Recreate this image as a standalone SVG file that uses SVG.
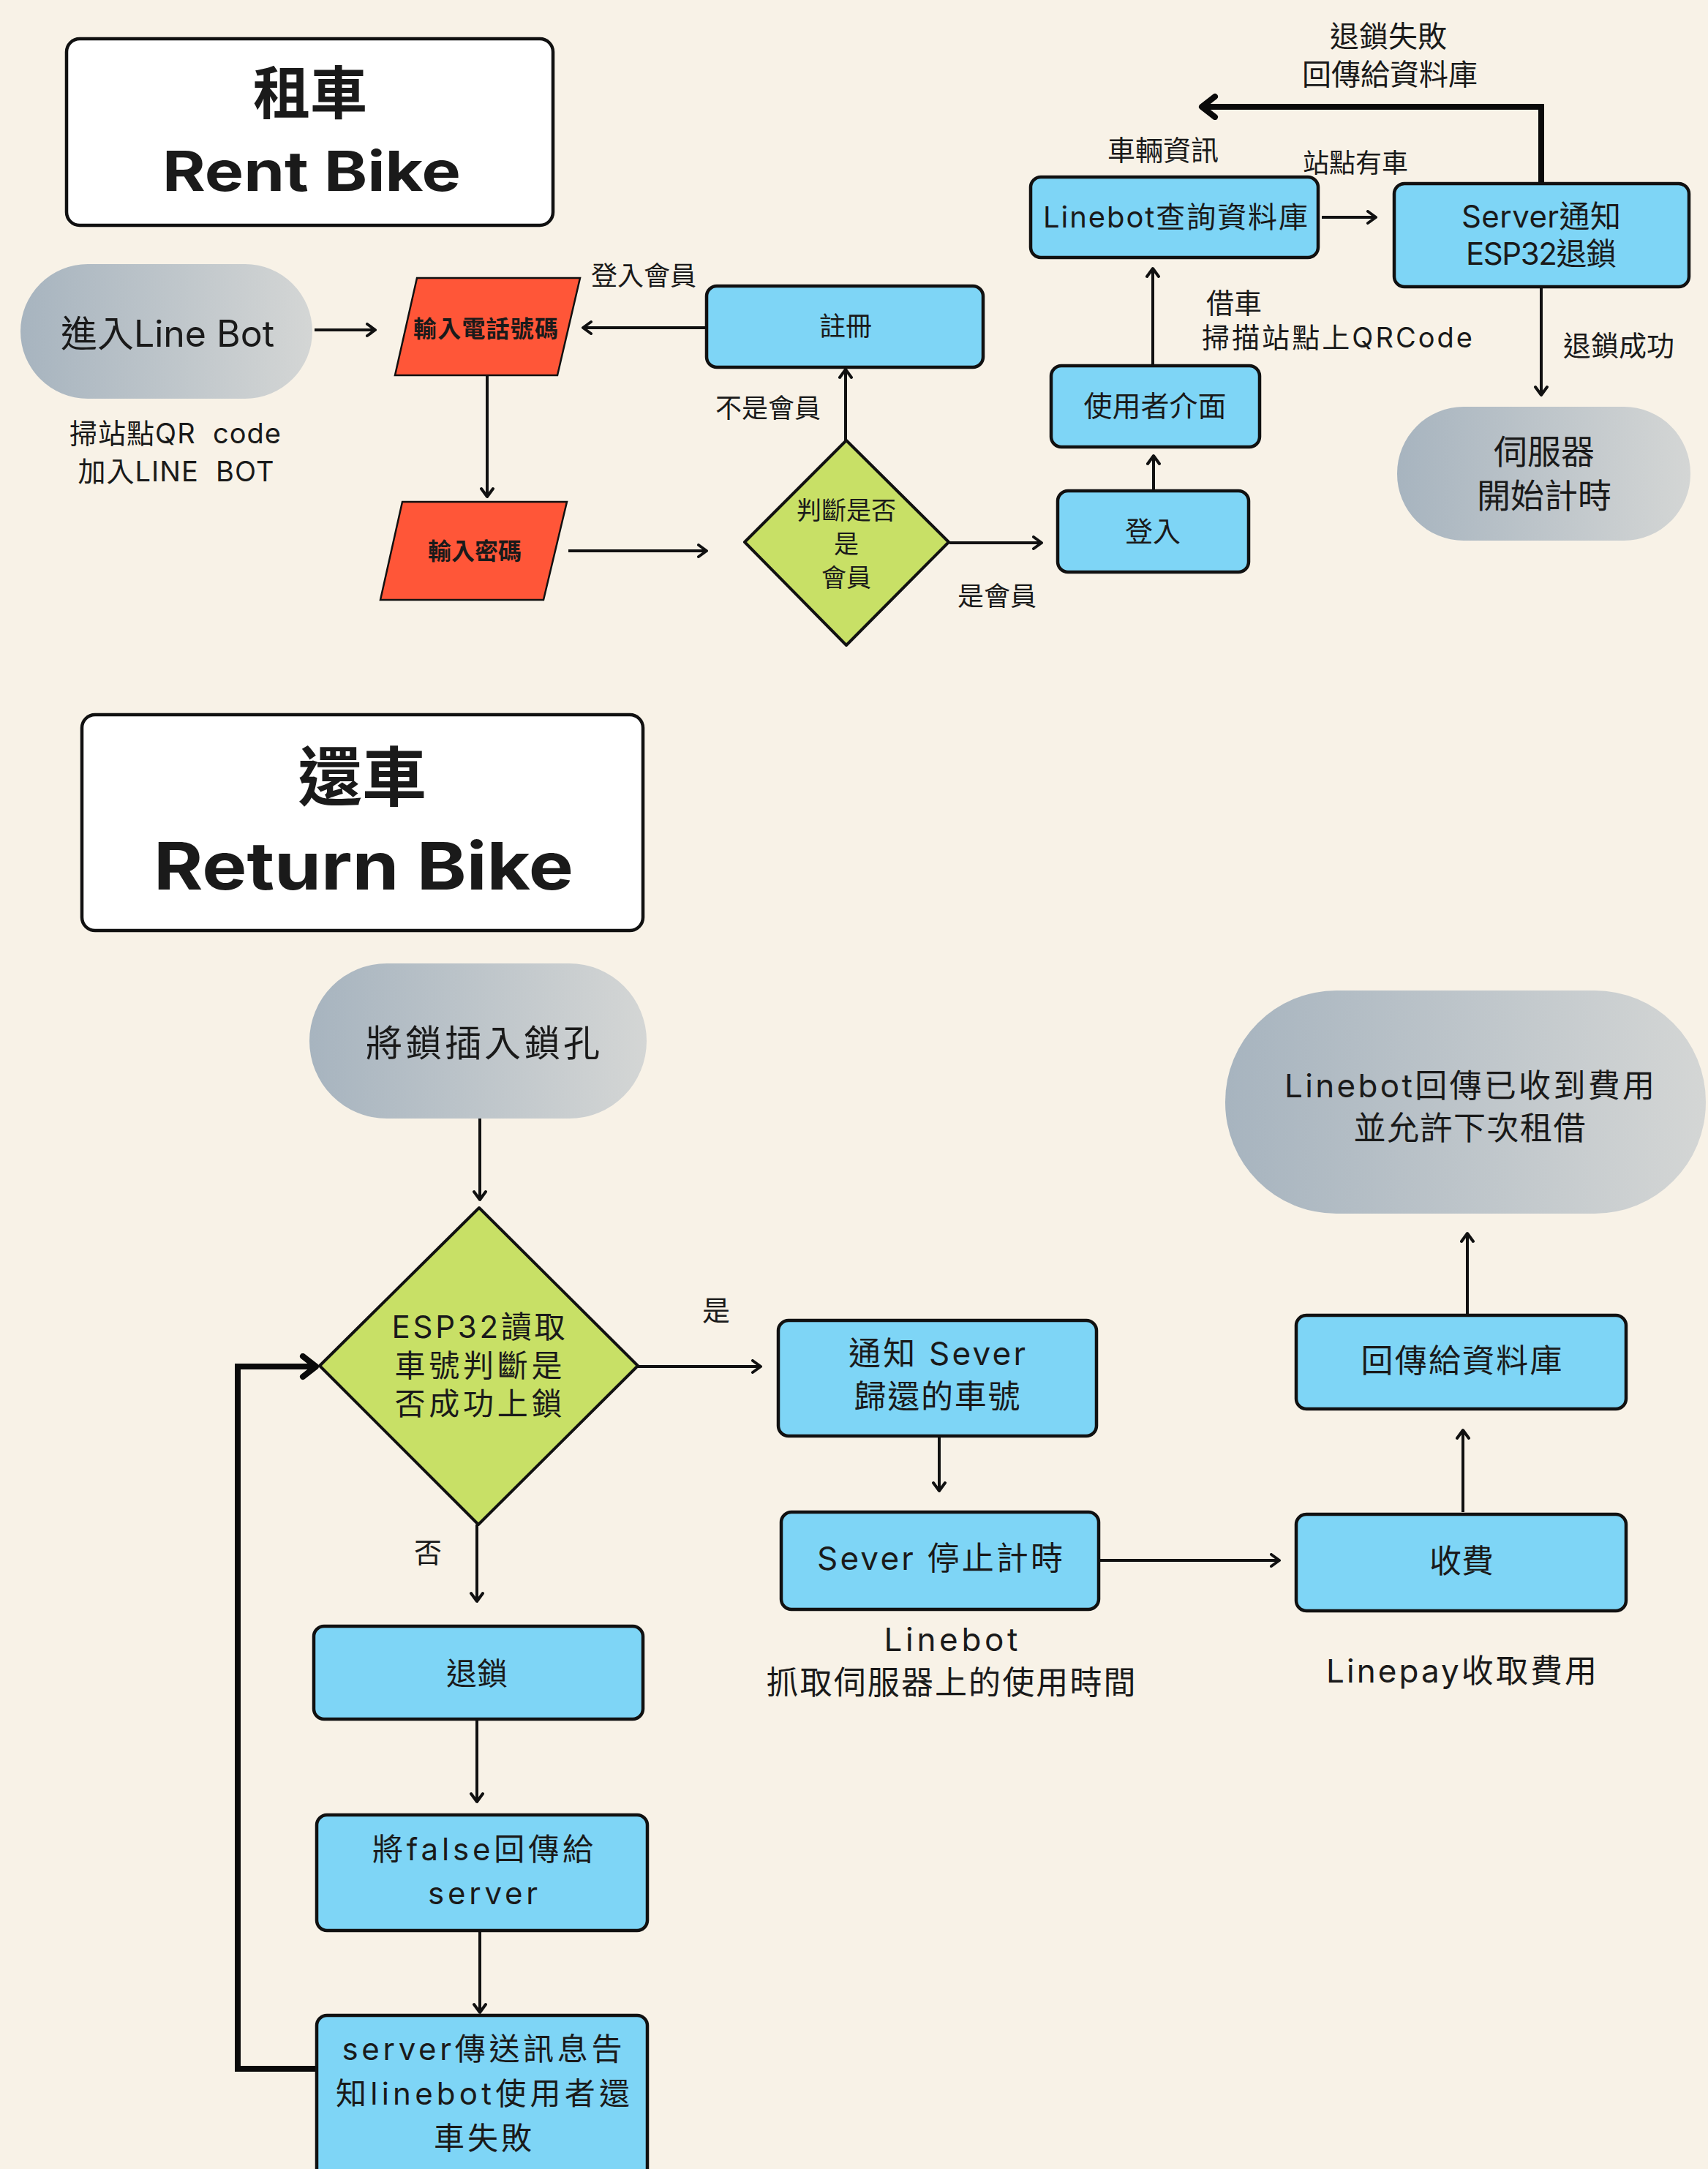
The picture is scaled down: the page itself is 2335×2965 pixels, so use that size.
<svg xmlns="http://www.w3.org/2000/svg" width="2335" height="2965" viewBox="0 0 2335 2965">
<style>
.t{font-family:Inter,"Noto Sans CJK TC",sans-serif;fill:#1a1a1a;text-anchor:middle}
.l{text-anchor:start}
.pre{white-space:pre}
.box{fill:#7ed5f6;stroke:#111;stroke-width:4.5}
.dia{fill:#c8e066;stroke:#111;stroke-width:4;stroke-linejoin:round}
.para{fill:#ff5638;stroke:#111;stroke-width:2.5}
.title{fill:#fff;stroke:#111;stroke-width:4.5}
.ln{fill:none;stroke:#111;stroke-width:4}
.thick{fill:none;stroke:#0a0a0a;stroke-width:8}
</style>
<defs>
<linearGradient id="pg" x1="0" y1="0" x2="1" y2="0">
<stop offset="0" stop-color="#a7b4bf"/>
<stop offset="1" stop-color="#d4d6d5"/>
</linearGradient>
<marker id="a" markerUnits="userSpaceOnUse" markerWidth="24" markerHeight="24" refX="14" refY="10" orient="auto">
<path d="M3,2 L14,10 L3,18" fill="none" stroke="#111" stroke-width="4" stroke-linecap="round" stroke-linejoin="round"/>
</marker>
<marker id="ab" markerUnits="userSpaceOnUse" markerWidth="40" markerHeight="40" refX="24" refY="18" orient="auto">
<path d="M6,4 L24,18 L6,32" fill="none" stroke="#0a0a0a" stroke-width="8" stroke-linecap="round" stroke-linejoin="round"/>
</marker>
</defs>
<rect x="0" y="0" width="2335" height="2965" fill="#f8f2e7"/>

<g id="connectors">
<line class="ln" x1="430" y1="451" x2="513" y2="451" marker-end="url(#a)"/>
<line class="ln" x1="966" y1="448" x2="797" y2="448" marker-end="url(#a)"/>
<line class="ln" x1="666" y1="514" x2="666" y2="679" marker-end="url(#a)"/>
<line class="ln" x1="777" y1="753" x2="966" y2="753" marker-end="url(#a)"/>
<line class="ln" x1="1156" y1="603" x2="1156" y2="505" marker-end="url(#a)"/>
<line class="ln" x1="1298" y1="742" x2="1424" y2="742" marker-end="url(#a)"/>
<line class="ln" x1="1577" y1="669" x2="1577" y2="623" marker-end="url(#a)"/>
<line class="ln" x1="1576" y1="499" x2="1576" y2="367" marker-end="url(#a)"/>
<line class="ln" x1="1807" y1="297" x2="1881" y2="297" marker-end="url(#a)"/>
<polyline class="thick" points="2107,251 2107,146 1643,146" marker-end="url(#ab)"/>
<line class="ln" x1="2107" y1="392" x2="2107" y2="540" marker-end="url(#a)"/>

<line class="ln" x1="656" y1="1529" x2="656" y2="1640" marker-end="url(#a)"/>
<line class="ln" x1="872" y1="1868" x2="1040" y2="1868" stroke="#333" marker-end="url(#a)"/>
<line class="ln" x1="652" y1="2084" x2="652" y2="2189" marker-end="url(#a)"/>
<line class="ln" x1="652" y1="2350" x2="652" y2="2463" marker-end="url(#a)"/>
<line class="ln" x1="656" y1="2640" x2="656" y2="2751" marker-end="url(#a)"/>
<polyline class="thick" points="433,2828 325,2828 325,1868 432,1868" marker-end="url(#ab)"/>
<line class="ln" x1="1284" y1="1963" x2="1284" y2="2038" marker-end="url(#a)"/>
<line class="ln" x1="1503" y1="2133" x2="1749" y2="2133" marker-end="url(#a)"/>
<line class="ln" x1="2000" y1="2067" x2="2000" y2="1955" marker-end="url(#a)"/>
<line class="ln" x1="2006" y1="1796" x2="2006" y2="1686" marker-end="url(#a)"/>
</g>

<g id="title-rent">
<rect class="title" x="91" y="53" width="665" height="255" rx="18"/>
<text class="t" x="424" y="156" font-size="78" font-weight="700">租車</text>
<text class="t" x="426" y="261" font-size="76" font-weight="700" textLength="408" lengthAdjust="spacingAndGlyphs">Rent Bike</text>
</g>
<g id="enter-linebot">
<rect x="28" y="361" width="399" height="184" rx="92" fill="url(#pg)"/>
<text class="t" x="229" y="474" font-size="50" textLength="292" lengthAdjust="spacing">進入Line Bot</text>
</g>
<g id="scan-label">
<text class="t pre" x="240" y="606" font-size="38" letter-spacing="1">掃站點QR  code</text>
<text class="t pre" x="241" y="658" font-size="38" letter-spacing="1">加入LINE  BOT</text>
</g>
<g id="input-phone">
<polygon class="para" points="570,380 793,380 762,513 540,513"/>
<text class="t" x="664" y="461" font-size="32" font-weight="700" textLength="198" lengthAdjust="spacing">輸入電話號碼</text>
</g>
<text class="t" x="880" y="390" font-size="36">登入會員</text>
<g id="register">
<rect class="box" x="966" y="391" width="378" height="111" rx="14"/>
<text class="t" x="1156" y="459" font-size="36">註冊</text>
</g>
<text class="t" x="1050" y="571" font-size="36">不是會員</text>
<g id="input-password">
<polygon class="para" points="550,686 775,686 743,820 520,820"/>
<text class="t" x="649" y="765" font-size="32" font-weight="700">輸入密碼</text>
</g>
<g id="is-member">
<polygon class="dia" points="1157,602 1297,741 1157,882 1018,741"/>
<text class="t" x="1157" y="710" font-size="34">判斷是否</text>
<text class="t" x="1157" y="756" font-size="34">是</text>
<text class="t" x="1157" y="802" font-size="34">會員</text>
</g>
<text class="t" x="1363" y="828" font-size="36">是會員</text>
<g id="login">
<rect class="box" x="1446" y="671" width="261" height="111" rx="14"/>
<text class="t" x="1576" y="740" font-size="38">登入</text>
</g>
<g id="user-ui">
<rect class="box" x="1437" y="500" width="285" height="111" rx="14"/>
<text class="t" x="1579" y="569" font-size="39">使用者介面</text>
</g>
<text class="t l" x="1649" y="428" font-size="38">借車</text>
<text class="t l" x="1643" y="475" font-size="38" textLength="370" lengthAdjust="spacing">掃描站點上QRCode</text>
<g id="linebot-query">
<rect class="box" x="1409" y="242" width="393" height="110" rx="14"/>
<text class="t" x="1607" y="311" font-size="40" textLength="362" lengthAdjust="spacing">Linebot查詢資料庫</text>
</g>
<text class="t" x="1590" y="219" font-size="38">車輛資訊</text>
<text class="t" x="1853" y="236" font-size="36">站點有車</text>
<text class="t" x="1898" y="64" font-size="40">退鎖失敗</text>
<text class="t" x="1900" y="116" font-size="40">回傳給資料庫</text>
<g id="server-unlock">
<rect class="box" x="1906" y="251" width="403" height="141" rx="14"/>
<text class="t" x="2107" y="311" font-size="42" textLength="218" lengthAdjust="spacing">Server通知</text>
<text class="t" x="2107" y="362" font-size="42" textLength="206" lengthAdjust="spacing">ESP32退鎖</text>
</g>
<text class="t l" x="2137" y="486" font-size="38">退鎖成功</text>
<g id="server-timer">
<rect x="1910" y="556" width="401" height="183" rx="91" fill="url(#pg)"/>
<text class="t" x="2111" y="634" font-size="46">伺服器</text>
<text class="t" x="2111" y="694" font-size="46">開始計時</text>
</g>

<g id="title-return">
<rect class="title" x="112" y="977" width="767" height="295" rx="18"/>
<text class="t" x="495" y="1094" font-size="88" font-weight="700">還車</text>
<text class="t" x="497" y="1216" font-size="90" font-weight="700" textLength="574" lengthAdjust="spacingAndGlyphs">Return Bike</text>
</g>
<g id="insert-lock">
<rect x="423" y="1317" width="461" height="212" rx="106" fill="url(#pg)"/>
<text class="t" x="660" y="1444" font-size="50" textLength="320" lengthAdjust="spacing">將鎖插入鎖孔</text>
</g>
<g id="esp32-check">
<polygon class="dia" points="655,1651 872,1867 654,2084 437,1867"/>
<text class="t" x="654" y="1829" font-size="42" textLength="237" lengthAdjust="spacing">ESP32讀取</text>
<text class="t" x="654" y="1882" font-size="42" textLength="229" lengthAdjust="spacing">車號判斷是</text>
<text class="t" x="654" y="1934" font-size="42" textLength="229" lengthAdjust="spacing">否成功上鎖</text>
</g>
<text class="t" x="979" y="1805" font-size="38">是</text>
<text class="t" x="585" y="2136" font-size="38">否</text>
<g id="unlock">
<rect class="box" x="429" y="2223" width="450" height="127" rx="14"/>
<text class="t" x="652" y="2303" font-size="42">退鎖</text>
</g>
<g id="return-false">
<rect class="box" x="433" y="2481" width="452" height="158" rx="14"/>
<text class="t" x="660" y="2543" font-size="42" textLength="302" lengthAdjust="spacing">將false回傳給</text>
<text class="t" x="660" y="2603" font-size="42" textLength="150" lengthAdjust="spacing">server</text>
</g>
<g id="server-notify-fail">
<rect class="box" x="433" y="2755" width="452" height="260" rx="14"/>
<text class="t" x="659" y="2816" font-size="42" textLength="383" lengthAdjust="spacing">server傳送訊息告</text>
<text class="t" x="660" y="2877" font-size="42" textLength="402" lengthAdjust="spacing">知linebot使用者還</text>
<text class="t" x="660" y="2938" font-size="42" textLength="134" lengthAdjust="spacing">車失敗</text>
</g>
<g id="notify-sever">
<rect class="box" x="1064" y="1805" width="435" height="158" rx="14"/>
<text class="t" x="1281" y="1866" font-size="44" textLength="242" lengthAdjust="spacing">通知 Sever</text>
<text class="t" x="1281" y="1925" font-size="44" textLength="227" lengthAdjust="spacing">歸還的車號</text>
</g>
<g id="sever-stop">
<rect class="box" x="1068" y="2067" width="434" height="133" rx="14"/>
<text class="t" x="1285" y="2146" font-size="44" textLength="336" lengthAdjust="spacing">Sever 停止計時</text>
</g>
<text class="t" x="1300" y="2257" font-size="44" textLength="183" lengthAdjust="spacing">Linebot</text>
<text class="t" x="1300" y="2316" font-size="44" textLength="505" lengthAdjust="spacing">抓取伺服器上的使用時間</text>
<g id="charge">
<rect class="box" x="1772" y="2070" width="451" height="132" rx="14"/>
<text class="t" x="1998" y="2150" font-size="44">收費</text>
</g>
<text class="t" x="1998" y="2300" font-size="44" textLength="370" lengthAdjust="spacing">Linepay收取費用</text>
<g id="return-db">
<rect class="box" x="1772" y="1798" width="451" height="128" rx="14"/>
<text class="t" x="1998" y="1876" font-size="44" textLength="275" lengthAdjust="spacing">回傳給資料庫</text>
</g>
<g id="linebot-done">
<rect x="1675" y="1354" width="657" height="305" rx="152" fill="url(#pg)"/>
<text class="t" x="2009" y="1500" font-size="44" textLength="506" lengthAdjust="spacing">Linebot回傳已收到費用</text>
<text class="t" x="2009" y="1558" font-size="44" textLength="317" lengthAdjust="spacing">並允許下次租借</text>
</g>
</svg>
